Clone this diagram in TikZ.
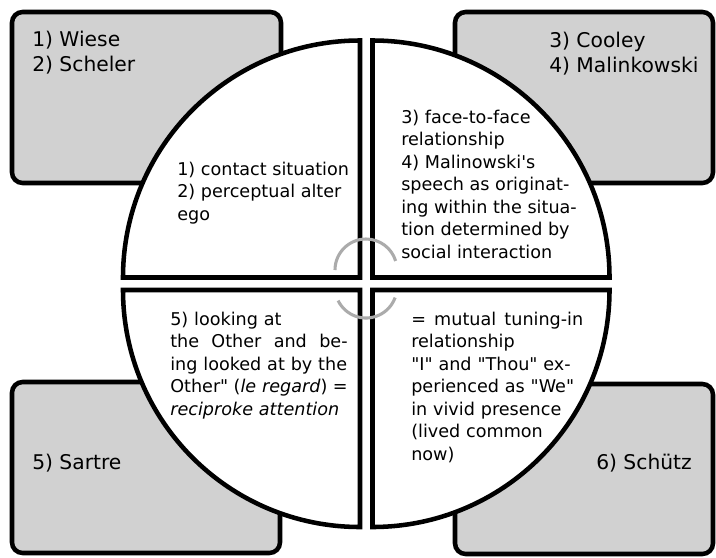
\documentclass[tikz,border=0pt]{standalone}
\usepackage{fontspec}
\setmainfont{DejaVu Sans}[Ligatures=TeXOff]

\begin{document}
\begin{tikzpicture}[
                    x=0.75pt, y=-0.75pt,
                    box style/.style={
                        draw=black,
                        line width=3.4pt,
                        fill=black!18,
                        rounded corners=8pt
                    },
                    quarter style/.style={
                        draw=black,
                        line width=3.4pt,
                        fill=white
                    },
                    turn style/.style={draw=black!33, line width=2.3pt},
                    name style/.style={
                        anchor=north west,
                        inner sep=0pt,
                        align=left,
                        font=\fontsize{15.2}{18.75}\selectfont
                    },
                    text style/.style={
                        anchor=north west,
                        inner sep=0pt,
                        align=left,
                        font=\fontsize{13.2}{16.9}\selectfont
                    }
                ]
                    \useasboundingbox (0,0) rectangle (716,557);
                    % the four boxes of authors
                    \draw[box style] (12,12) rectangle (281,183);
                    \draw[box style] (455,12) rectangle (713,183);
                    \draw[box style] (12,382) rectangle (280,553);
                    \draw[box style] (455,384) rectangle (713,554);
                    % the circle, cut in four
                    \draw[quarter style] (360,277.5) -- (123,277.5) arc (180:270:237) -- cycle;
                    \draw[quarter style] (372.5,277.5) -- (372.5,40.5) arc (270:360:237) -- cycle;
                    \draw[quarter style] (372.5,290) -- (609.5,290) arc (0:90:237) -- cycle;
                    \draw[quarter style] (360,290) -- (360,527) arc (90:180:237) -- cycle;
                    % turning arcs in the middle
                    \draw[turn style] (335,270) arc (180:343:31);
                    \draw[turn style] (395.1,297.6) arc (20:154:31);
                    % texts
                    \node[name style] (wiese) at (32,30.6) {1) Wiese\\2) Scheler};
                    \node[name style] (cooley) at (549,31.6) {3) Cooley\\4) Malinkowski};
                    \node[name style] (sartre) at (32,453.6) {5) Sartre};
                    \node[name style] (schutz) at (596,453.6) {6) Schütz};
                    \node[text style] (contact) at (177,161.6) {1) contact situation\\2) perceptual alter\\ego};
                    \node[text style] (faceface) at (401,109.6) {3) face-to-face\\relationship\\4) Malinowski's\\speech as originat-\\ing within the situa-\\tion determined by\\social interaction};
                    \node[text style, text width=133pt] (regard) at (170,311.6) {5) looking at\\the\hfill Other\hfill and\hfill be-\\ing looked at by the\\Other"\hfill (\textit{le regard})\hfill =\\\textit{reciproke attention}};
                    \node[text style, text width=129pt] (tuning) at (411,311.6) {=\hfill mutual\hfill tuning-in\\relationship\\"I" and "Thou" ex-\\perienced as "We"\\in vivid presence\\(lived common\\now)};
                \end{tikzpicture}
\end{document}
